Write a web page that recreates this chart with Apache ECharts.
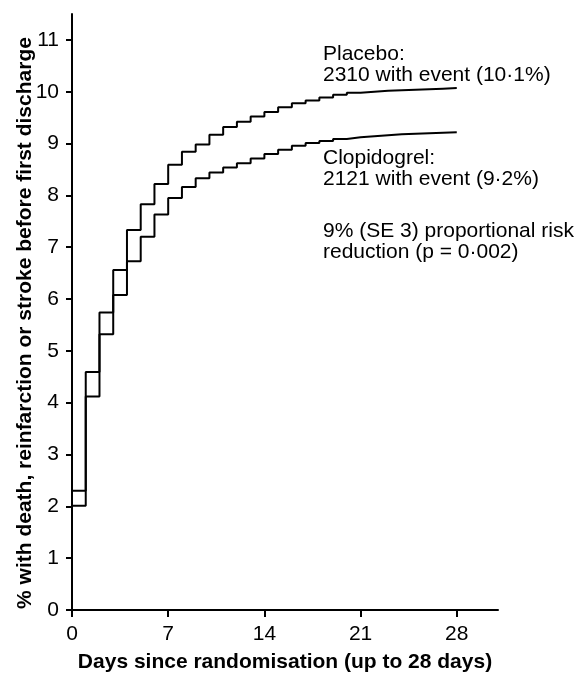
<!DOCTYPE html>
<html>
<head>
<meta charset="utf-8">
<script src="https://cdn.jsdelivr.net/npm/echarts@6/dist/echarts.min.js"></script>
<style>
  html, body { margin: 0; padding: 0; background: #fff; }
  #main { width: 579px; height: 673px; }
</style>
</head>
<body>
<div id="main"></div>
<script>
// days since randomisation, one step per day
var days = [0,1,2,3,4,5,6,7,8,9,10,11,12,13,14,15,16,17,18,19,20,21,22,23,24,25,26,27,28];
var placebo = [2.30,4.59,5.74,6.56,7.33,7.83,8.22,8.59,8.84,8.98,9.17,9.32,9.42,9.52,9.61,9.70,9.78,9.83,9.89,9.94,9.98,10.00,10.02,10.03,10.04,10.05,10.06,10.07,10.08];
var clopidogrel = [2.01,4.12,5.32,6.08,6.73,7.20,7.63,7.95,8.16,8.33,8.44,8.54,8.62,8.71,8.80,8.88,8.96,9.01,9.05,9.09,9.12,9.14,9.16,9.18,9.19,9.20,9.21,9.22,9.23];
var xTicks = [0,7,14,21,28];
var yTicks = [0,1,2,3,4,5,6,7,8,9,10,11];

var font = 'Liberation Sans, Arial, sans-serif';

function pairs(ys) {
  var out = [];
  for (var i = 0; i < days.length; i++) out.push([days[i], ys[i]]);
  return out;
}

function stepSeries(name, ys) {
  return {
    name: name,
    type: 'line',
    step: 'end',
    data: pairs(ys),
    symbol: 'none',
    lineStyle: { color: '#000', width: 2 },
    silent: true
  };
}

var axisCommon = {
  type: 'value',
  min: 0,
  splitLine: { show: false },
  nameMoveOverlap: false,
  axisLine: { show: true, onZero: false, lineStyle: { color: '#000', width: 2 } },
  nameTextStyle: { fontFamily: font, fontWeight: 'bold', fontSize: 21, color: '#000' }
};

var option = {
  backgroundColor: '#fff',
  animation: false,
  grid: { left: 72, right: 81, top: 14, bottom: 63, containLabel: false, outerBoundsMode: 'none' },
  xAxis: Object.assign({}, axisCommon, {
    max: 31,
    interval: 7,
    name: 'Days since randomisation (up to 28 days)',
    nameLocation: 'middle',
    nameGap: 42,
    axisTick: { show: true, length: 7, lineStyle: { color: '#000', width: 2 }, customValues: xTicks },
    axisLabel: { color: '#000', fontFamily: font, fontSize: 21, margin: 14, customValues: xTicks }
  }),
  yAxis: Object.assign({}, axisCommon, {
    max: 11.5,
    interval: 1,
    name: '% with death, reinfarction or stroke before first discharge',
    nameLocation: 'middle',
    nameGap: 36,
    nameTextStyle: { fontFamily: font, fontWeight: 'bold', fontSize: 21, color: '#000', padding: [0, 22, 0, 0] },
    axisTick: { show: true, length: 6, lineStyle: { color: '#000', width: 2 }, customValues: yTicks },
    axisLabel: { color: '#000', fontFamily: font, fontSize: 21, margin: 13, customValues: yTicks }
  }),
  series: [
    stepSeries('Placebo', placebo),
    stepSeries('Clopidogrel', clopidogrel)
  ],
  graphic: [
    { type: 'text', left: 323, top: 44, silent: true,
      style: { text: 'Placebo:\n2310 with event (10·1%)', font: '21px ' + font, lineHeight: 21, fill: '#000' } },
    { type: 'text', left: 323, top: 148, silent: true,
      style: { text: 'Clopidogrel:\n2121 with event (9·2%)', font: '21px ' + font, lineHeight: 21, fill: '#000' } },
    { type: 'text', left: 323, top: 221, silent: true,
      style: { text: '9% (SE 3) proportional risk\nreduction (p = 0·002)', font: '21px ' + font, lineHeight: 21, fill: '#000' } }
  ]
};

echarts.init(document.getElementById('main')).setOption(option);
</script>
</body>
</html>
